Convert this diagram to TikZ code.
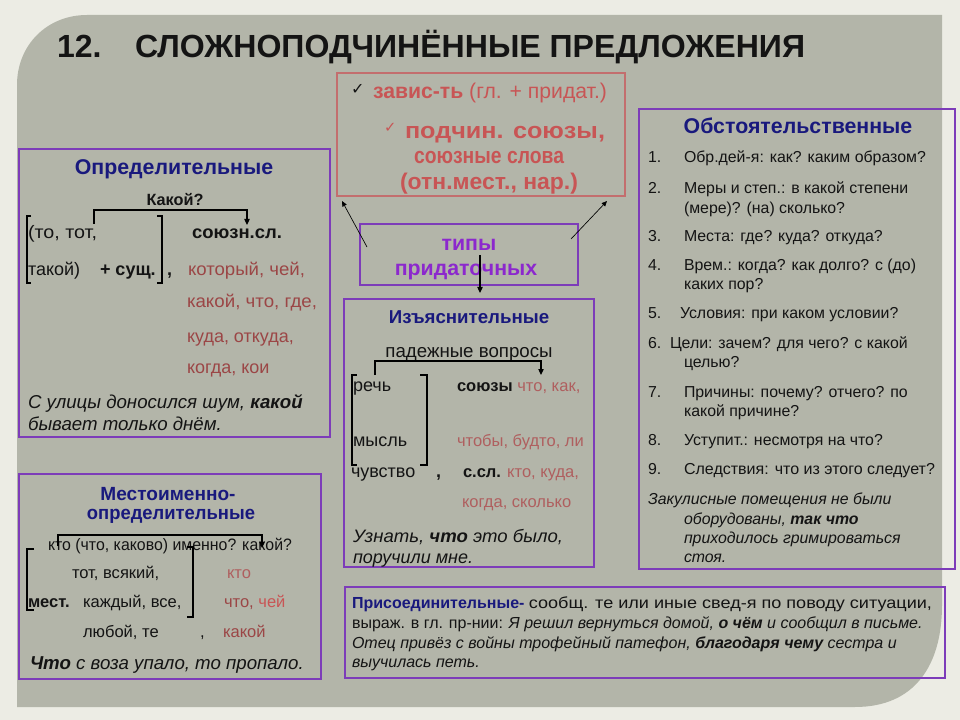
\documentclass[tikz,border=0pt]{standalone}
\usepackage{graphicx}
\usepackage{fontspec}
\setmainfont{Liberation Sans}
\newfontfamily\symf{DejaVu Sans}
\usetikzlibrary{arrows.meta}
\definecolor{outerbg}{RGB}{236,236,228}
\definecolor{panelc}{RGB}{179,181,169}
\definecolor{purpb}{RGB}{125,60,185}
\definecolor{navy}{RGB}{25,25,125}
\definecolor{maroon}{RGB}{155,70,70}
\definecolor{pinkr}{RGB}{200,85,85}
\definecolor{softr}{RGB}{175,95,95}
\definecolor{redbd}{RGB}{195,110,110}
\definecolor{purpt}{RGB}{140,40,205}
\definecolor{ink}{RGB}{20,20,20}
\definecolor{grayink}{RGB}{45,45,45}
\newcommand\ftitle{\fontsize{24pt}{25pt}\selectfont\bfseries}
\newcommand\fhead{\fontsize{15.5pt}{16pt}\selectfont\bfseries}
\newcommand\fbody{\fontsize{13.5pt}{15pt}\selectfont}
\newcommand\fsmall{\fontsize{12.4pt}{14pt}\selectfont}
\newcommand\fright{\fontsize{11.9pt}{13pt}\selectfont}
\newcommand\ftop{\fontsize{16pt}{17pt}\selectfont}
\newcommand\ftopb{\fontsize{17pt}{18pt}\selectfont\bfseries}
\newcommand\fbot{\fontsize{12pt}{13pt}\selectfont}
\newcommand\chk{{\symf\char"2713}}
\newdimen\fitd
\newcommand\fitw[2]{\fitd=#1pt \fitd=0.75\fitd \resizebox{\fitd}{\height}{#2}}
\begin{document}
\begin{tikzpicture}[x=0.75pt,y=-0.75pt,
  every node/.style={inner sep=0pt,outer sep=0pt},
  tx/.style={anchor=base west,text=ink},
  tm/.style={anchor=base,text=ink},
  pbox/.style={draw=purpb,line width=0.9pt},
  rbox/.style={draw=redbd,line width=0.9pt},
  br/.style={draw=black,line width=0.9pt},
  arr/.style={br,-{Triangle[length=4.5pt,width=4pt]}},
  thin/.style={draw=black,line width=0.5pt,-{Triangle[length=4pt,width=3.5pt]}}]
\useasboundingbox (0,0) rectangle (960,720);
\fill[outerbg] (0,0) rectangle (960,720);
\fill[panelc] (17,707) -- (17,85) .. controls (17,45) and (47,15) .. (87,15) -- (942,15) -- (942,605) .. controls (942,665) and (915,707) .. (855,707) -- cycle;

% title
\node[tx,font=\ftitle] (ttl1) at (57,58) {12.};
\node[tx,font=\ftitle] (ttl2) at (135,58) {\fitw{670}{СЛОЖНОПОДЧИНЁННЫЕ ПРЕДЛОЖЕНИЯ}};

% boxes
\draw[pbox] (19,149) rectangle (330,437);
\draw[pbox] (19,474) rectangle (321,679);
\draw[rbox] (337,73) rectangle (625,196);
\draw[pbox] (360,224) rectangle (578,285);
\draw[pbox] (344,299) rectangle (594,567);
\draw[pbox] (639,109) rectangle (955,569);
\draw[pbox] (345,587) rectangle (945,678);

% top box
\node[tx,font=\fontsize{12pt}{12pt}\selectfont] (ck1) at (351,95) {\chk};
\node[tx,font=\ftop,text=pinkr] (tb1) at (373,99) {\fitw{234}{\textbf{завис-ть} (гл. + придат.)}};
\node[tx,font=\fontsize{11pt}{11pt}\selectfont,text=pinkr] (ck2) at (384,133) {\chk};
\node[tx,font=\ftopb,text=pinkr] (tb2) at (405,139) {\fitw{200}{подчин. союзы,}};
\node[tx,font=\ftopb,text=pinkr] (tb3) at (414,164) {\fitw{150}{союзные слова}};
\node[tx,font=\ftopb,text=pinkr] (tb4) at (400,190) {\fitw{178}{(отн.мест., нар.)}};

% types box
\node[tm,font=\fontsize{16pt}{17pt}\selectfont\bfseries,text=purpt] (tp1) at (469,251) {типы};
\node[tm,font=\fontsize{16pt}{17pt}\selectfont\bfseries,text=purpt] (tp2) at (466,276) {придаточных};
\coordinate (a1s) at (367,247); \coordinate (a1e) at (342,201);
\coordinate (a2s) at (571,239); \coordinate (a2e) at (607,201);
\coordinate (a3s) at (480,255); \coordinate (a3e) at (480,293);
\draw[thin] (a1s) -- (a1e);
\draw[thin] (a2s) -- (a2e);
\draw[arr] (a3s) -- (a3e);

% Определительные
\node[tm,font=\fontsize{16pt}{17pt}\selectfont\bfseries,text=navy] (o0) at (174,175) {Определительные};
\node[tm,font=\fontsize{12.2pt}{13pt}\selectfont\bfseries] (o1) at (175,206) {Какой?};
\coordinate (ob1) at (94,224); \coordinate (ob2) at (94,210); \coordinate (ob3) at (247,210); \coordinate (ob4) at (247,225);
\draw[arr] (ob1) -- (ob2) -- (ob3) -- (ob4);
\draw[br] (31,216) -- (27,216) -- (27,283) -- (31,283);
\draw[br] (157,216) -- (162,216) -- (162,283) -- (157,283);
\node[tx,font=\fbody] (o2) at (28,239) {\fitw{69}{(то, тот,}};
\node[tx,font=\fbody\bfseries] (o3) at (192,239) {\fitw{90}{союзн.сл.}};
\node[tx,font=\fbody] (o4) at (28,276) {такой)};
\node[tx,font=\fbody\bfseries] (o5) at (100,276) {+ сущ.};
\node[tx,font=\fbody\bfseries] (o6) at (167,276) {,};
\node[tx,font=\fbody,text=maroon] (o7) at (188,276) {\fitw{117}{который, чей,}};
\node[tx,font=\fbody,text=maroon] (o8) at (187,307) {\fitw{130}{какой, что, где,}};
\node[tx,font=\fbody,text=maroon] (o9) at (187,342) {куда, откуда,};
\node[tx,font=\fbody,text=maroon] (o10) at (187,373) {когда, кои};
\node[tx,font=\fontsize{14pt}{15pt}\selectfont\itshape] (o11) at (28,408) {С улицы доносился шум, \textbf{какой}};
\node[tx,font=\fontsize{14pt}{15pt}\selectfont\itshape] (o12) at (28,430) {бывает только днём.};

% Местоименно-определительные
\node[tm,font=\fontsize{14.3pt}{15pt}\selectfont\bfseries,text=navy] (m0) at (168,500) {Местоименно-};
\node[tm,font=\fontsize{14.3pt}{15pt}\selectfont\bfseries,text=navy] (m1) at (171,519) {\fitw{168}{определительные}};
\node[tx,font=\fsmall] (m2) at (48,550) {\fitw{244}{кто (что, каково) именно? какой?}};
\coordinate (mb1) at (58,546); \coordinate (mb2) at (58,535); \coordinate (mb3) at (262,535); \coordinate (mb4) at (262,548);
\draw[arr] (mb1) -- (mb2) -- (mb3) -- (mb4);
\draw[br] (34,549) -- (27,549) -- (27,610) -- (34,610);
\draw[br] (187,547) -- (193,547) -- (193,617) -- (187,617);
\node[tx,font=\fsmall] (m3) at (72,578) {тот, всякий,};
\node[tx,font=\fsmall,text=softr] (m4) at (227,578) {кто};
\node[tx,font=\fsmall\bfseries] (m5) at (28,607) {мест.};
\node[tx,font=\fsmall] (m6) at (83,607) {каждый, все,};
\node[tx,font=\fsmall,text=maroon] (m7) at (224,607) {что, \textcolor{pinkr}{чей}};
\node[tx,font=\fsmall] (m8) at (83,637) {любой, те};
\node[tx,font=\fsmall] (m9) at (200,637) {,};
\node[tx,font=\fsmall,text=maroon] (m10) at (223,637) {какой};
\node[tx,font=\fontsize{14pt}{15pt}\selectfont\itshape] (m11) at (30,669) {\textbf{Что} с воза упало, то пропало.};

% Изъяснительные
\node[tm,font=\fontsize{14pt}{15pt}\selectfont\bfseries,text=navy] (i0) at (469,323) {Изъяснительные};
\node[tm,font=\fontsize{14pt}{15pt}\selectfont] (i1) at (469,357) {падежные вопросы};
\coordinate (ib1) at (375,375); \coordinate (ib2) at (375,361); \coordinate (ib3) at (541,361); \coordinate (ib4) at (541,375);
\draw[arr] (ib1) -- (ib2) -- (ib3) -- (ib4);
\draw[br] (357,375) -- (352,375) -- (352,465) -- (357,465);
\draw[br] (420,375) -- (427,375) -- (427,465) -- (420,465);
\node[tx,font=\fbody] (i2) at (353,391) {речь};
\node[tx,font=\fsmall] (i3) at (457,391) {\textbf{союзы} \textcolor{softr}{что, как,}};
\node[tx,font=\fbody] (i4) at (353,446) {мысль};
\node[tx,font=\fsmall,text=softr] (i5) at (457,446) {чтобы, будто, ли};
\node[tx,font=\fbody] (i6) at (351,477) {чувство};
\node[tx,font=\fbody\bfseries] (i7) at (436,477) {,};
\node[tx,font=\fsmall] (i8) at (463,477) {\textbf{с.сл.} \textcolor{softr}{кто, куда,}};
\node[tx,font=\fsmall,text=softr] (i9) at (462,507) {когда, сколько};
\node[tx,font=\fbody\itshape] (i10) at (353,542) {\fitw{210}{Узнать, \textbf{что} это было,}};
\node[tx,font=\fbody\itshape] (i11) at (353,563) {поручили мне.};

% Обстоятельственные
\node[tm,font=\fontsize{16pt}{17pt}\selectfont\bfseries,text=navy] (b0) at (798,134) {Обстоятельственные};
\begin{scope}[every node/.append style={font=\fright,text=grayink}]
\node[tx] (n1) at (648,163) {1.};
\node[tx] (s1) at (684,163) {Обр.дей-я: как? каким образом?};
\node[tx] (n2) at (648,194) {2.};
\node[tx] (s2) at (684,194) {Меры и степ.: в какой степени};
\node[tx] (s2b) at (684,214) {(мере)? (на) сколько?};
\node[tx] (n3) at (648,242) {3.};
\node[tx] (s3) at (684,242) {Места: где? куда? откуда?};
\node[tx] (n4) at (648,271) {4.};
\node[tx] (s4) at (684,271) {Врем.: когда? как долго? с (до)};
\node[tx] (s4b) at (684,290) {каких пор?};
\node[tx] (n5) at (648,319) {5.};
\node[tx] (s5) at (680,319) {Условия: при каком условии?};
\node[tx] (n6) at (648,348) {6.};
\node[tx] (s6) at (670,348) {Цели: зачем? для чего? с какой};
\node[tx] (s6b) at (684,367) {целью?};
\node[tx] (n7) at (648,397) {7.};
\node[tx] (s7) at (684,397) {Причины: почему? отчего? по};
\node[tx] (s7b) at (684,416) {какой причине?};
\node[tx] (n8) at (648,445) {8.};
\node[tx] (s8) at (684,445) {Уступит.: несмотря на что?};
\node[tx] (n9) at (648,474) {9.};
\node[tx] (s9) at (684,474) {\fitw{251}{Следствия: что из этого следует?}};
\node[tx,font=\fright\itshape] (e1) at (648,504) {Закулисные помещения не были};
\node[tx,font=\fright\itshape] (e2) at (684,524) {оборудованы, \textbf{так что}};
\node[tx,font=\fright\itshape] (e3) at (684,543) {приходилось гримироваться};
\node[tx,font=\fright\itshape] (e4) at (684,562) {стоя.};
\end{scope}

% Присоединительные
\begin{scope}[every node/.append style={font=\fbot,text=grayink}]
\node[tx] (p1) at (352,608) {\textcolor{navy}{\bfseries Присоединительные-} \fitw{403}{сообщ. те или иные свед-я по поводу ситуации,}};
\node[tx] (p2) at (352,628) {выраж. в гл. пр-нии: \textit{Я решил вернуться домой, \textbf{о чём} и сообщил в письме.}};
\node[tx,font=\fbot\itshape] (p3) at (352,648) {Отец привёз с войны трофейный патефон, \textbf{благодаря чему} сестра и};
\node[tx,font=\fbot\itshape] (p4) at (352,667) {выучилась петь.};
\end{scope}
\end{tikzpicture}
\end{document}
